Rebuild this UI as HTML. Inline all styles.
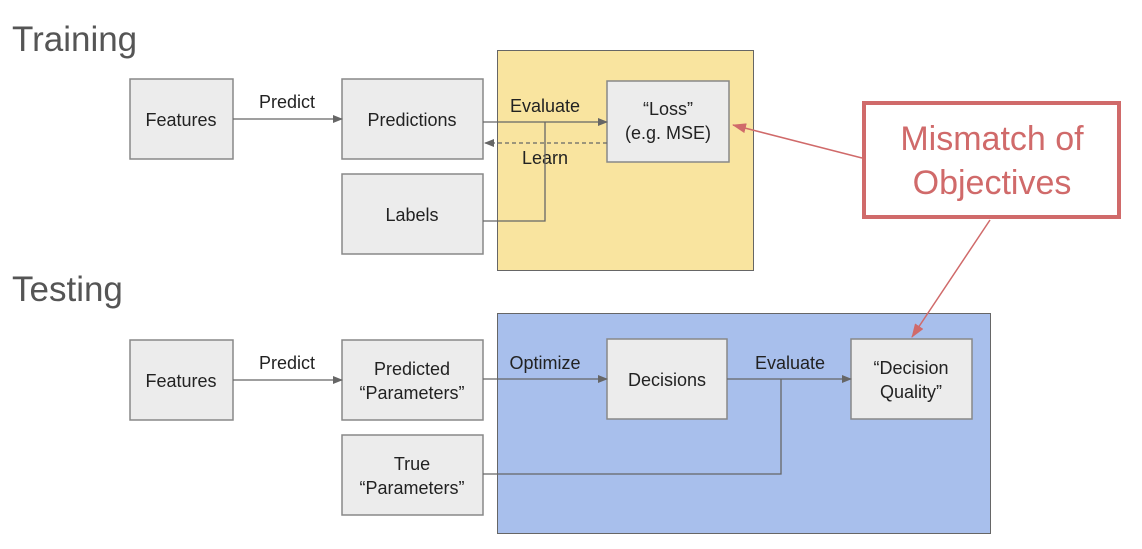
<!DOCTYPE html>
<html><head><style>
body{margin:0;background:#fff;}
svg text{font-family:"Liberation Sans",sans-serif;}
</style></head><body>
<svg width="1142" height="544" xmlns="http://www.w3.org/2000/svg">
<defs>
<marker id="a" markerWidth="10" markerHeight="8" refX="9" refY="4" orient="auto" markerUnits="userSpaceOnUse"><path d="M0,0 L10,4 L0,8 z" fill="#666"/></marker>
<marker id="r" markerWidth="14" markerHeight="10" refX="13" refY="5" orient="auto" markerUnits="userSpaceOnUse"><path d="M0,0 L14,5 L0,10 z" fill="#d06a6a"/></marker>
</defs>
<text x="12" y="51" font-size="35" fill="#555">Training</text>
<text x="12" y="301" font-size="35" fill="#555">Testing</text>
<rect x="497.5" y="50.5" width="256" height="220" fill="#f9e49f" stroke="#666"/>
<rect x="497.5" y="313.5" width="493" height="220" fill="#a8bfec" stroke="#666"/>
<g fill="#ececec" stroke="#888" stroke-width="1.5">
<rect x="130" y="79" width="103" height="80"/>
<rect x="342" y="79" width="141" height="80"/>
<rect x="342" y="174" width="141" height="80"/>
<rect x="607" y="81" width="122" height="81"/>
<rect x="130" y="340" width="103" height="80"/>
<rect x="342" y="340" width="141" height="80"/>
<rect x="342" y="435" width="141" height="80"/>
<rect x="607" y="339" width="120" height="80"/>
<rect x="851" y="339" width="121" height="80"/>
</g>
<g font-size="18" fill="#222" text-anchor="middle">
<text x="181" y="126">Features</text>
<text x="412" y="126">Predictions</text>
<text x="412" y="221">Labels</text>
<text x="668" y="115">“Loss”</text>
<text x="668" y="139">(e.g. MSE)</text>
<text x="181" y="387">Features</text>
<text x="412" y="375">Predicted</text>
<text x="412" y="399">“Parameters”</text>
<text x="412" y="470">True</text>
<text x="412" y="494">“Parameters”</text>
<text x="667" y="386">Decisions</text>
<text x="911" y="374">“Decision</text>
<text x="911" y="398">Quality”</text>
<text x="287" y="108">Predict</text>
<text x="545" y="112">Evaluate</text>
<text x="545" y="164">Learn</text>
<text x="287" y="369">Predict</text>
<text x="545" y="369">Optimize</text>
<text x="790" y="369">Evaluate</text>
</g>
<g stroke="#666" stroke-width="1.3" fill="none">
<line x1="233" y1="119" x2="342" y2="119" marker-end="url(#a)"/>
<line x1="483" y1="122" x2="607" y2="122" marker-end="url(#a)"/>
<polyline points="483,221 545,221 545,122"/>
<line x1="607" y1="143" x2="485" y2="143" stroke-dasharray="4,3" marker-end="url(#a)"/>
<line x1="233" y1="380" x2="342" y2="380" marker-end="url(#a)"/>
<line x1="483" y1="379" x2="607" y2="379" marker-end="url(#a)"/>
<line x1="727" y1="379" x2="851" y2="379" marker-end="url(#a)"/>
<polyline points="483,474 781,474 781,379"/>
</g>
<line x1="862" y1="158" x2="733" y2="125" stroke="#d06a6a" stroke-width="1.5" marker-end="url(#r)"/>
<line x1="990" y1="220" x2="912" y2="337" stroke="#d06a6a" stroke-width="1.5" marker-end="url(#r)"/>
<rect x="864" y="103" width="255" height="114" fill="#fff" stroke="#d06a6a" stroke-width="4"/>
<g font-size="34" fill="#d06a6a" text-anchor="middle">
<text x="992" y="150">Mismatch of</text>
<text x="992" y="194">Objectives</text>
</g>
</svg>
</body></html>
